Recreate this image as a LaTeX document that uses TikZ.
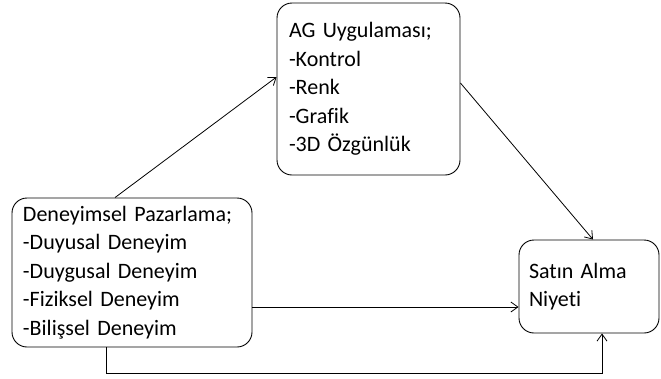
\documentclass[tikz,border=0pt]{standalone}
\usepackage{fontspec}
\setmainfont[Ligatures=NoCommon]{Carlito}
\usetikzlibrary{arrows.meta}
\begin{document}
\begin{tikzpicture}[x=1pt,y=-1pt,
  box/.style={draw, line width=0.9pt, rounded corners=15pt, align=left, font=\fontsize{22}{28.4}\selectfont, inner ysep=0pt, anchor=center},
  arr/.style={line width=0.8pt, -{Straight Barb[length=7pt,width=10pt,line width=0.8pt]}}]
\useasboundingbox (0,0) rectangle (661,378);
\node[box, minimum width=183pt, minimum height=172pt, text width=159pt, inner xsep=12pt] (ag) at (368.5,89)
  {AG Uygulaması;\\-Kontrol\\-Renk\\-Grafik\\-3D Özgünlük};
\node[box, minimum width=240pt, minimum height=149pt, text width=218pt, inner xsep=11pt] (dp) at (132,272.5)
  {Deneyimsel Pazarlama;\\-Duyusal Deneyim\\-Duygusal Deneyim\\-Fiziksel Deneyim\\-Bilişsel Deneyim};
\node[box, minimum width=140pt, minimum height=93pt, text width=120pt, inner xsep=10pt] (st) at (589,286.5)
  {Satın Alma\\Niyeti};
\coordinate (a1) at ([xshift=-17pt]dp.north);
\coordinate (a2) at ([yshift=12pt]ag.west);
\draw[arr] (a1) -- (a2);
\coordinate (b1) at ([yshift=6pt]ag.east);
\coordinate (b2) at ([xshift=4pt]st.north);
\draw[arr] (b1) -- (b2);
\coordinate (h) at ([yshift=-34.5pt]dp.east);
\draw[arr] (h) -- (h -| st.west);
\coordinate (e1) at ([xshift=-26pt]dp.south);
\coordinate (e2) at ([xshift=13pt]st.south);
\coordinate (e3) at (0,373);
\draw[arr] (e1) -- (e1 |- e3) -| (e2);
\end{tikzpicture}
\end{document}
